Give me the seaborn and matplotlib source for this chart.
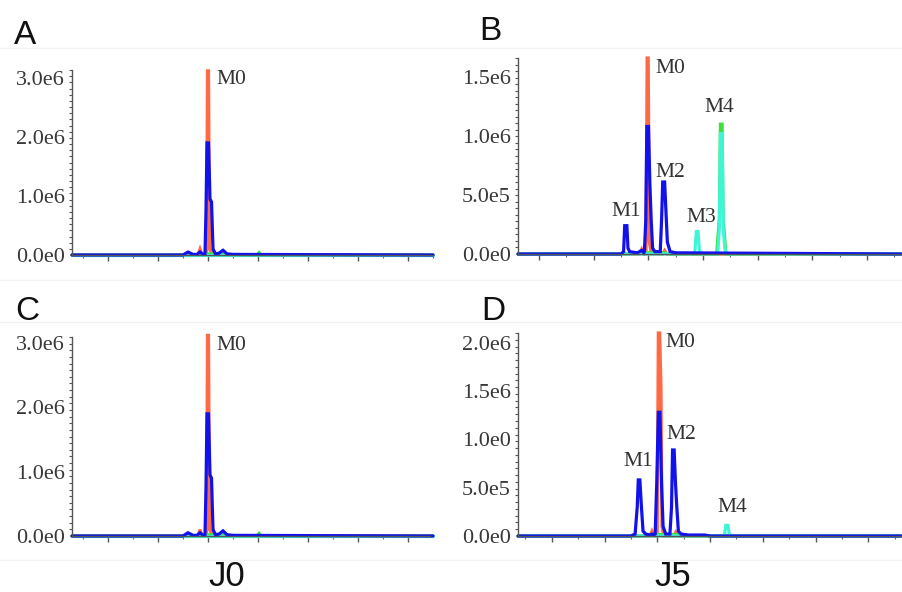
import numpy as np
import pandas as pd
import matplotlib
matplotlib.use("Agg")
import matplotlib.pyplot as plt
import seaborn as sns
from matplotlib.ticker import MultipleLocator

# ---------------- data (retention time, intensity in units of 1e6) ----------------
# J0 (panels A and C are the same run)
J0_red_rt   = [0.28, 2.80, 2.84, 2.88, 2.97, 2.99, 3.01, 3.03, 3.10, 7.50]
J0_red_y    = [0.00, 0.00, 0.10, 0.00, 0.00, 3.12, 3.12, 0.10, 0.00, 0.00]
J0_green_rt = [0.28, 2.90, 3.00, 3.30, 3.40, 3.98, 4.02, 4.06, 7.50]
J0_green_y  = [0.00, 0.00, 0.02, 0.02, 0.00, 0.00, 0.04, 0.00, 0.00]
J0_cyan_rt  = [0.28, 7.50]
J0_cyan_y   = [0.00, 0.00]
J0_blue_rt  = [0.28, 2.50, 2.60, 2.70, 2.78, 2.84, 2.90, 2.94, 2.96, 2.98, 3.01, 3.04,
               3.07, 3.10, 3.15, 3.22, 3.30, 3.38, 3.50, 7.50]
J0_blue_y   = [0.00, 0.00, 0.05, 0.01, 0.01, 0.05, 0.01, 0.02, 0.75, 1.90, 1.90, 0.95,
               0.90, 0.10, 0.02, 0.03, 0.08, 0.02, 0.01, 0.00]

# J5, panel B
B_red_rt   = [0.62, 2.84, 2.88, 2.92, 2.96, 2.98, 3.00, 3.02, 3.06, 3.26, 3.30, 3.34, 7.62]
B_red_y    = [0.00, 0.00, 0.04, 0.00, 0.00, 1.66, 1.66, 0.10, 0.00, 0.00, 0.03, 0.00, 0.00]
B_green_rt = [0.62, 2.60, 2.70, 3.30, 3.40, 4.25, 4.30, 4.32, 4.35, 4.37, 4.42, 7.62]
B_green_y  = [0.00, 0.00, 0.01, 0.01, 0.00, 0.00, 0.30, 1.10, 1.10, 0.30, 0.00, 0.00]
B_cyan_rt  = [0.62, 3.85, 3.88, 3.91, 3.94, 4.27, 4.30, 4.32, 4.35, 4.37, 4.40, 4.43, 7.62]
B_cyan_y   = [0.00, 0.00, 0.19, 0.19, 0.00, 0.00, 0.22, 1.02, 1.02, 0.22, 0.05, 0.00, 0.00]
B_blue_rt  = [0.62, 2.50, 2.55, 2.57, 2.61, 2.63, 2.66, 2.80, 2.88, 2.92, 2.93, 2.955,
              2.975, 3.005, 3.03, 3.055, 3.08, 3.12, 3.22, 3.245, 3.265, 3.30, 3.325,
              3.35, 3.40, 3.50, 7.62]
B_blue_y   = [0.00, 0.00, 0.02, 0.24, 0.24, 0.05, 0.02, 0.01, 0.03, 0.01, 0.02, 0.28,
              1.08, 1.08, 0.60, 0.28, 0.05, 0.02, 0.02, 0.30, 0.61, 0.61, 0.35,
              0.10, 0.02, 0.01, 0.00]

# J5, panel D
D_red_rt   = [0.36, 2.86, 2.90, 2.94, 3.00, 3.02, 3.045, 3.07, 3.09, 3.12, 3.31, 3.35, 3.39, 7.62]
D_red_y    = [0.00, 0.00, 0.05, 0.00, 0.00, 2.10, 2.10, 1.55, 0.10, 0.00, 0.00, 0.04, 0.00, 0.00]
D_green_rt = [0.36, 2.70, 2.80, 3.40, 3.50, 7.62]
D_green_y  = [0.00, 0.00, 0.015, 0.015, 0.00, 0.00]
D_cyan_rt  = [0.36, 4.27, 4.30, 4.34, 4.37, 7.62]
D_cyan_y   = [0.00, 0.00, 0.11, 0.11, 0.00, 0.00]
D_blue_rt  = [0.36, 2.50, 2.58, 2.62, 2.64, 2.67, 2.70, 2.73, 2.78, 2.86, 2.90, 2.93,
              2.96, 2.99, 3.02, 3.05, 3.08, 3.11, 3.16, 3.24, 3.27, 3.29, 3.32, 3.345,
              3.37, 3.40, 3.45, 3.60, 3.90, 4.00, 7.62]
D_blue_y   = [0.00, 0.00, 0.02, 0.30, 0.58, 0.58, 0.30, 0.05, 0.02, 0.01, 0.02, 0.01,
              0.02, 0.55, 1.28, 1.28, 0.55, 0.10, 0.02, 0.02, 0.30, 0.89, 0.89, 0.55,
              0.30, 0.05, 0.02, 0.01, 0.01, 0.00, 0.00]

# peak labels: (text, rt, intensity[1e6], horizontal alignment)
A_labels = [("M0", 3.16, 2.97, "left")]
B_labels = [("M0", 3.14, 1.57, "left"), ("M1", 2.60, 0.36, "center"),
            ("M2", 3.14, 0.69, "left"), ("M3", 3.97, 0.31, "center"),
            ("M4", 4.30, 1.24, "center")]
D_labels = [("M0", 3.16, 2.00, "left"), ("M1", 2.64, 0.77, "center"),
            ("M2", 3.18, 1.05, "left"), ("M4", 4.42, 0.29, "center")]

# axis settings
A_ylim, B_ylim, C_ylim, D_ylim = 3.135, 1.66, 3.095, 2.10
A_yticks = [0, 1, 2, 3];        A_ylabels = ["0.0e0", "1.0e6", "2.0e6", "3.0e6"]
B_yticks = [0, 0.5, 1.0, 1.5];  B_ylabels = ["0.0e0", "5.0e5", "1.0e6", "1.5e6"]
D_yticks = [0, 0.5, 1.0, 1.5, 2.0]
D_ylabels = ["0.0e0", "5.0e5", "1.0e0", "1.5e6", "2.0e6"]
xticks = [1, 2, 3, 4, 5, 6, 7]
panel_letters = ["A", "B", "C", "D"]
group_labels = ["J0", "J5"]

palette = {"red": "#ff6a45", "green": "#3ee03e", "cyan": "#3ff5d8", "blue": "#1111ee"}
order = ["red", "green", "cyan", "blue"]


def frame(traces):
    rows = []
    for name, rt, y in traces:
        for i, (a, b) in enumerate(zip(rt, y)):
            rows.append({"trace": name, "rt": a, "I": b * 1e6, "i": i})
    return pd.DataFrame(rows)


sns.set_theme(style="white")
plt.rcParams["font.family"] = ["Liberation Serif", "DejaVu Serif"]

fig = plt.figure(figsize=(9.02, 5.92), dpi=100)
W, H = 902, 592


def add_axes(l, r, t, b):
    return fig.add_axes([l / W, 1 - b / H, (r - l) / W, (b - t) / H])


axA = add_axes(72, 433, 70, 255)
axB = add_axes(518, 901, 58, 254)
axC = add_axes(72, 430, 337, 536)
axD = add_axes(518, 901, 333, 536)

J0 = [("red", J0_red_rt, J0_red_y), ("green", J0_green_rt, J0_green_y),
      ("cyan", J0_cyan_rt, J0_cyan_y), ("blue", J0_blue_rt, J0_blue_y)]
Bd = [("red", B_red_rt, B_red_y), ("green", B_green_rt, B_green_y),
      ("cyan", B_cyan_rt, B_cyan_y), ("blue", B_blue_rt, B_blue_y)]
Dd = [("red", D_red_rt, D_red_y), ("green", D_green_rt, D_green_y),
      ("cyan", D_cyan_rt, D_cyan_y), ("blue", D_blue_rt, D_blue_y)]

specs = [
    (axA, J0, A_ylim, A_yticks, A_ylabels, A_labels, (0.28, 7.50)),
    (axB, Bd, B_ylim, B_yticks, B_ylabels, B_labels, (0.62, 7.62)),
    (axC, J0, C_ylim, A_yticks, A_ylabels, A_labels, (0.28, 7.44)),
    (axD, Dd, D_ylim, D_yticks, D_ylabels, D_labels, (0.36, 7.62)),
]

for ax, traces, ymax, yt, ylab, labels, xl in specs:
    df = frame(traces)
    sns.lineplot(data=df, x="rt", y="I", hue="trace", hue_order=order, palette=palette,
                 units="trace", estimator=None, sort=False, ax=ax, legend=False,
                 linewidth=2.3)
    for ln in ax.get_lines():
        ln.set_clip_on(False)
        ln.set_solid_joinstyle("miter")
    ax.set_xlim(*xl)
    ax.set_ylim(0, ymax * 1e6)
    ax.set_xlabel("")
    ax.set_ylabel("")
    for s in ["top", "right"]:
        ax.spines[s].set_visible(False)
    for s in ["left", "bottom"]:
        ax.spines[s].set_color("#555555")
        ax.spines[s].set_linewidth(1.0)
    ax.set_yticks([v * 1e6 for v in yt])
    ax.set_yticklabels(ylab)
    ax.yaxis.set_minor_locator(MultipleLocator(ymax * 1e6 / 30))
    ax.set_xticks(xticks)
    ax.set_xticklabels([""] * len(xticks))
    ax.xaxis.set_minor_locator(MultipleLocator(0.5))
    ax.tick_params(axis="y", which="major", direction="out", length=3, width=1,
                   color="#444444", labelsize=16, labelcolor="#383838", pad=2)
    ax.tick_params(axis="y", which="minor", direction="out", length=2, width=0.8,
                   color="#555555", left=True)
    ax.tick_params(axis="x", which="major", direction="out", length=4, width=1,
                   color="#555555", bottom=True)
    ax.tick_params(axis="x", which="minor", direction="out", length=2, width=0.8,
                   color="#666666", bottom=True)
    ax.patch.set_alpha(0)
    for txt, x, y, ha in labels:
        ax.text(x, y * 1e6, txt, fontsize=15.5, color="#333333", ha=ha, va="center",
                family=["Liberation Serif", "DejaVu Serif"])

# panel letters and group labels
pos = {"A": (25, 35), "B": (490, 32), "C": (27, 311), "D": (493, 311)}
for k in panel_letters:
    x, y = pos[k]
    fig.text(x / W, 1 - y / H, k, fontsize=24, ha="center", va="center",
             family=["Liberation Sans", "DejaVu Sans"], color="#111111")
for txt, x in zip(group_labels, [227, 673]):
    fig.text(x / W, 1 - 577 / H, txt, fontsize=25, ha="center", va="center",
             family=["Liberation Sans", "DejaVu Sans"], color="#111111")

# faint panel frame lines
for yy in [48, 280, 322, 560]:
    fig.add_artist(plt.Line2D([0, 1], [1 - yy / H, 1 - yy / H], transform=fig.transFigure,
                              color="#f2f2f2", linewidth=1))

fig.savefig("out.png", dpi=100)
